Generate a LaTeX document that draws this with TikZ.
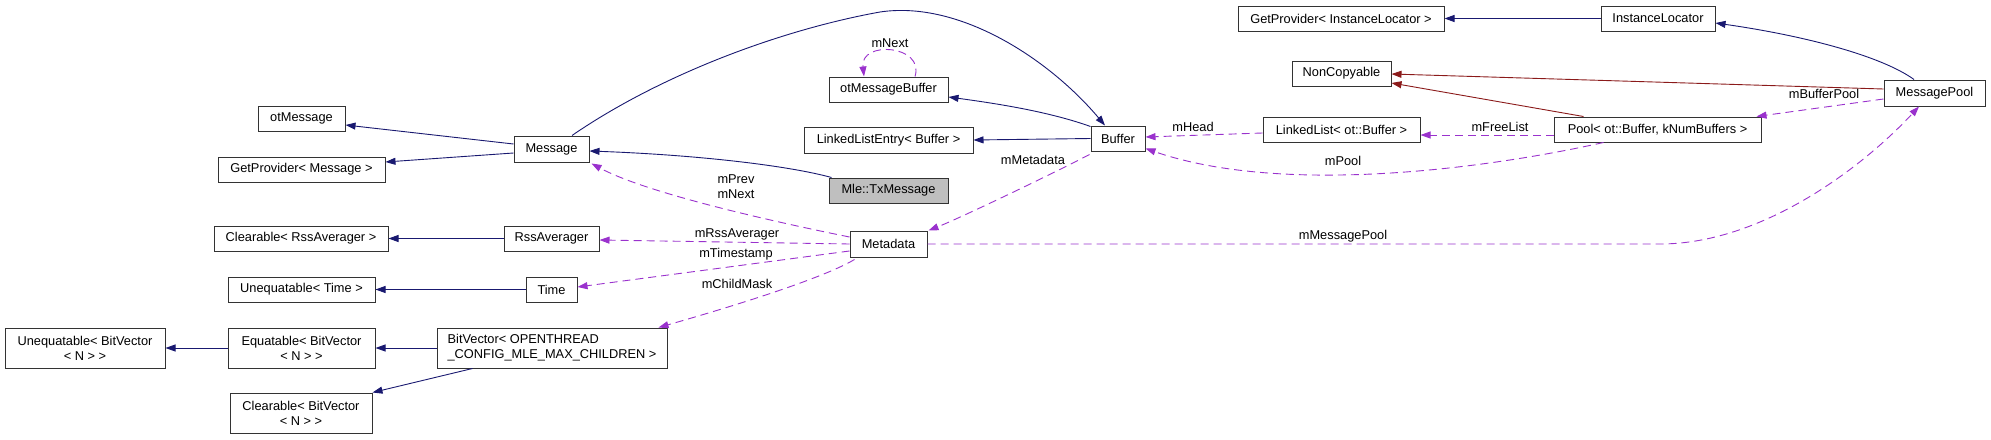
\documentclass[tikz,border=0pt]{standalone}
\usepackage{fontspec}
\setmainfont{Liberation Sans}
\usetikzlibrary{arrows.meta,calc}
\definecolor{eblue}{HTML}{191970}
\definecolor{ered}{HTML}{8B1A1A}
\definecolor{epurple}{HTML}{9A32CD}
\definecolor{bgray}{HTML}{BFBFBF}
\begin{document}
\begin{tikzpicture}[x=1pt,y=-1pt,
  box/.style={draw=black!80, line width=1pt, fill=white, inner sep=0pt,
    minimum height=25pt, font=\fontsize{12.8}{15}\selectfont, text=black, align=center},
  tall/.style={minimum height=40pt},
  tip/.style={-{Triangle[length=10pt,width=7pt]}},
  inh/.style={tip, draw=eblue, line width=0.9pt},
  priv/.style={tip, draw=ered, line width=0.9pt},
  use/.style={tip, draw=epurple, line width=0.9pt, dash pattern=on 8pt off 5pt},
  lbl/.style={font=\fontsize{12.8}{15}\selectfont, inner sep=0pt, text=black, align=center}
]
\useasboundingbox (0,0) rectangle (1991,439);

% nodes
\node[box, minimum width=87pt]  (otmsg)  at (301.5,118.5) {otMessage};
\node[box, minimum width=167pt] (gpmsg)  at (301.5,169.5) {GetProvider< Message >};
\node[box, minimum width=75pt, minimum height=26pt] (msg) at (551.5,149) {Message};
\node[box, minimum width=174pt] (clrss)  at (301,238.5) {Clearable< RssAverager >};
\node[box, minimum width=95pt]  (rss)    at (551.5,238.5) {RssAverager};
\node[box, minimum width=147pt] (uneqt)  at (301.5,289.5) {Unequatable< Time >};
\node[box, minimum width=51pt]  (time)   at (551.5,289.5) {Time};
\node[box, tall, minimum width=160pt] (uneqbv) at (85,348) {Unequatable< BitVector\\< N > >};
\node[box, tall, minimum width=147pt] (eqbv)   at (301.5,348) {Equatable< BitVector\\< N > >};
\node[box, tall, minimum width=230pt, align=left] (bv) at (552,348) {BitVector< OPENTHREAD\\\_CONFIG\_MLE\_MAX\_CHILDREN >};
\node[box, tall, minimum width=142pt] (clbv)   at (301,413) {Clearable< BitVector\\< N > >};
\node[box, minimum width=119pt] (otmb)   at (888.5,89.5) {otMessageBuffer};
\node[box, minimum width=169pt, minimum height=26pt] (lle) at (888.5,140) {LinkedListEntry< Buffer >};
\node[box, minimum width=119pt, fill=bgray] (tx) at (888.5,190.5) {Mle::TxMessage};
\node[box, minimum width=77pt, minimum height=26pt] (meta) at (888.5,244) {Metadata};
\node[box, minimum width=54pt]  (buf)    at (1118,138.5) {Buffer};
\node[box, minimum width=206pt] (gpil)   at (1341,18.5) {GetProvider< InstanceLocator >};
\node[box, minimum width=99pt]  (nc)     at (1341.5,73.5) {NonCopyable};
\node[box, minimum width=157pt] (ll)     at (1341.5,129.5) {LinkedList< ot::Buffer >};
\node[box, minimum width=114pt] (il)     at (1658,18.5) {InstanceLocator};
\node[box, minimum width=207pt] (pool)   at (1657.5,129.5) {Pool< ot::Buffer, kNumBuffers >};
\node[box, minimum width=101pt, minimum height=26pt] (mp) at (1934.5,93) {MessagePool};

% inheritance (blue)
\draw[inh] ($(msg.west)+(0,-5)$) -- ($(otmsg.east)+(0,6.5)$);
\draw[inh] ($(msg.west)+(0,4)$) -- ($(gpmsg.east)+(0,-7.5)$);
\draw[inh] ($(tx.north west)+(3,0)$) .. controls (790,166) and (700,155) .. ($(msg.east)+(0,2)$);
\draw[inh] (rss.west) -- (clrss.east);
\draw[inh] (time.west) -- (uneqt.east);
\draw[inh] (bv.west) -- (eqbv.east);
\draw[inh] (eqbv.west) -- (uneqbv.east);
\draw[inh] ($(bv.south west)+(36,0)$) -- (clbv.north east);
\draw[inh] ($(msg.north)+(20.5,0)$) .. controls (660,75) and (780,30) .. (880,12)
   .. controls (960,0) and (1050,60) .. ($(buf.north)+(-13,0)$);
\draw[inh] ($(buf.north west)+(0,1)$) .. controls (1050,112) and (1000,104) .. ($(otmb.east)+(0,7.5)$);
\draw[inh] (buf.west) -- (lle.east);
\draw[inh] (il.west) -- (gpil.east);
\draw[inh] ($(mp.north)+(-20.5,0)$) .. controls (1880,55) and (1800,35) .. ($(il.east)+(0,4.5)$);

% private inheritance (red)
\draw[priv] ($(mp.west)+(0,-4)$) -- ($(nc.east)+(0,0.5)$);
\draw[priv] ($(pool.north west)+(30,0)$) -- ($(nc.east)+(0,9.5)$);

% usage (purple dashed)
\draw[use] ($(otmb.north)+(26.5,0)$) .. controls (925,45) and (860,40) .. ($(otmb.north)+(-24.5,0)$);
\node[lbl] (lnext) at (890,43) {mNext};
\draw[use] ($(meta.west)+(0,-7)$) .. controls (790,225) and (650,195) .. ($(msg.south east)+(2,1)$);
\node[lbl] (lprev) at (736,186.5) {mPrev\\mNext};
\draw[use] (meta.west) -- ($(rss.east)+(0,1.5)$);
\node[lbl] (lrss) at (737,234) {mRssAverager};
\draw[use] ($(meta.west)+(0,7)$) -- ($(time.east)+(0,-2.5)$);
\node[lbl] (lts) at (736,254) {mTimestamp};
\draw[use] ($(meta.south west)+(5,2)$) .. controls (820,280) and (720,310) .. ($(bv.north east)+(-9,0)$);
\node[lbl] (lcm) at (737,284) {mChildMask};
\draw[use] ($(buf.south west)+(-1,3)$) .. controls (1050,175) and (960,218) .. ($(meta.north east)+(1,0)$);
\node[lbl] (lmd) at (1033,160) {mMetadata};
\draw[use] ($(ll.west)+(0,3.5)$) -- ($(buf.east)+(0,-1.5)$);
\node[lbl] (lhead) at (1193,127) {mHead};
\draw[use] ($(pool.west)+(0,5.5)$) -- ($(ll.east)+(0,5.5)$);
\node[lbl] (lfree) at (1500,127) {mFreeList};
\draw[use] ($(pool.south west)+(50,0)$) .. controls (1480,170) and (1280,195) .. ($(buf.south east)+(0,-3)$);
\node[lbl] (lpool) at (1343,161) {mPool};
\draw[use] ($(mp.west)+(0,6)$) -- ($(pool.north east)+(-5,0)$);
\node[lbl] (lbp) at (1824,94) {mBufferPool};
\draw[use] (meta.east) -- (1660,244) .. controls (1760,244) and (1860,170) .. ($(mp.south)+(-15.5,0)$);
\node[lbl] (lmp) at (1343,236) {mMessagePool};
\end{tikzpicture}
\end{document}
